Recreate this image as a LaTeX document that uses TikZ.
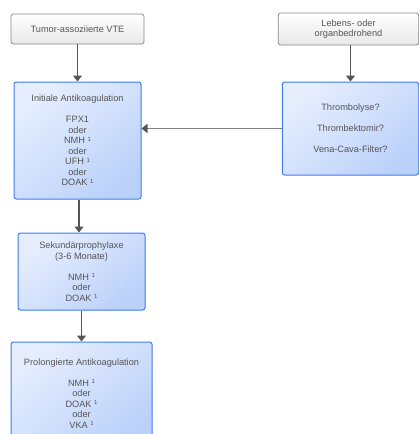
\documentclass[tikz,border=0pt]{standalone}
\usepackage{fontspec}
\setmainfont{Liberation Sans}
\usetikzlibrary{arrows.meta}
\definecolor{txt}{HTML}{555555}
\definecolor{boxblue}{HTML}{3B7DF0}
\definecolor{bluelight}{HTML}{E6EEFE}
\definecolor{bluedark}{HTML}{BCD1FA}
\definecolor{graybd}{HTML}{8A8A8A}
\definecolor{arrowc}{HTML}{555555}
\definecolor{hline}{HTML}{808080}
\newcommand{\fn}{\kern2.5pt\raisebox{2.5pt}{\fontsize{6}{6}\selectfont 1}}
\begin{document}
\begin{tikzpicture}[x=1pt,y=-1pt,
  base/.style={align=center, text=txt, inner sep=0pt, rounded corners=2.5pt,
    font=\fontsize{9.2}{10.5}\selectfont},
  bluebox/.style={base, draw=boxblue, line width=1pt, top color=bluelight,
    bottom color=bluedark, shading angle=40},
  graybox/.style={base, draw=graybd, line width=0.8pt, top color=white,
    bottom color=black!9},
  arr/.style={draw=arrowc, line width=1.3pt, -{Triangle[width=9pt,length=6pt]}},
  harr/.style={draw=hline, line width=1.3pt, -{Triangle[width=9pt,length=6pt,fill=arrowc,color=arrowc]}}
]
\useasboundingbox (0,0) rectangle (419,434);
\node[graybox, minimum width=133pt, minimum height=30pt] (A) at (77.5,29) {Tumor-assoziierte VTE};
\node[graybox, minimum width=140.5pt, minimum height=32pt] (B) at (348.5,29) {Lebens- oder\\organbedrohend};
\node[bluebox, minimum width=127pt, minimum height=117pt] (C) at (77.5,140.5)
 {Initiale Antikoagulation\\[10.5pt]FPX1\\oder\\NMH\fn\\oder\\UFH\fn\\oder\\DOAK\fn};
\node[bluebox, minimum width=136.5pt, minimum height=93pt] (D) at (350.5,128.5)
 {Thrombolyse?\\[10.5pt]Thrombektomir?\\[10.5pt]Vena-Cava-Filter?};
\node[bluebox, minimum width=127pt, minimum height=77pt] (E) at (81.5,271.5)
 {Sekundärprophylaxe\\(3-6 Monate)\\[10.5pt]NMH\fn\\oder\\DOAK\fn};
\node[bluebox, minimum width=141pt, minimum height=103pt] (F) at (81.5,393.5)
 {Prolongierte Antikoagulation\\[10.5pt]NMH\fn\\oder\\DOAK\fn\\oder\\VKA\fn};
\draw[arr] (A.south) -- (C.north);
\draw[arr] (D.north |- B.south) -- (D.north);
\draw[harr] (D.west) -- (C.east |- D.west);
\draw[arr] ([xshift=1.5pt]C.south) -- ([xshift=1.5pt]C.south |- E.north);
\draw[arr] (E.south) -- (F.north);
\end{tikzpicture}
\end{document}
